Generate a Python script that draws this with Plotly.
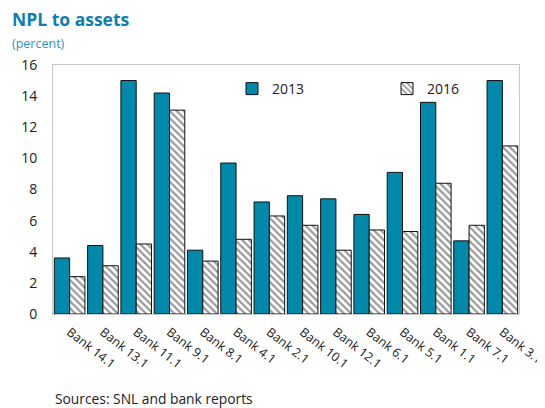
import plotly.graph_objects as go

banks = ["Bank 14.1", "Bank 13.1", "Bank 11.1", "Bank 9.1", "Bank 8.1", "Bank 4.1", "Bank 2.1",
         "Bank 10.1", "Bank 12.1", "Bank 6.1", "Bank 5.1", "Bank 1.1", "Bank 7.1", "Bank 3.1"]
npl_2013 = [3.6, 4.4, 15.0, 14.2, 4.1, 9.7, 7.2, 7.6, 7.4, 6.4, 9.1, 13.6, 4.7, 15.0]
npl_2016 = [2.4, 3.1, 4.5, 13.1, 3.4, 4.8, 6.3, 5.7, 4.1, 5.4, 5.3, 8.4, 5.7, 10.8]
y_ticks = [0, 2, 4, 6, 8, 10, 12, 14, 16]

FONT = "Open Sans"
OFF = 8  # page body margin in the browser
W, H = 545 - OFF, 408 - OFF
L, R, T, B = 53 - OFF, 26, 65 - OFF, 94
plot_w = W - L - R
plot_h = H - T - B


def px(x):
    # x in screenshot pixels -> paper coordinate
    return (x - OFF - L) / plot_w


def py(y):
    return (H - B - (y - OFF)) / plot_h


fig = go.Figure()
fig.add_trace(go.Bar(
    x=banks, y=npl_2013, name="2013",
    marker=dict(color="#0089AB", line=dict(color="#111111", width=1)),
))
fig.add_trace(go.Bar(
    x=banks, y=npl_2016, name="2016",
    marker=dict(color="white", line=dict(color="#111111", width=1),
                pattern=dict(shape="\\", fgcolor="#333333", bgcolor="white", size=5, solidity=0.45)),
))

fig.update_layout(
    width=W, height=H,
    margin=dict(l=L, r=R, t=T, b=B, autoexpand=False),
    paper_bgcolor="white", plot_bgcolor="white",
    barmode="group", bargap=0.08, bargroupgap=0.0,
    font=dict(family=FONT, size=13, color="#222222"),
    showlegend=True,
    legend=dict(orientation="h", x=px(232), y=py(89), xanchor="left", yanchor="middle",
                bgcolor="rgba(0,0,0,0)", font=dict(size=14), traceorder="normal",
                itemwidth=30, entrywidthmode="pixels", entrywidth=110),
    xaxis=dict(showgrid=False, tickangle=38, showline=True, linecolor="#c8c8c8", mirror=True,
               ticks="", tickfont=dict(size=12.5), automargin=False, ticklabelstandoff=5),
    yaxis=dict(range=[0, 16], tickvals=y_ticks, showgrid=False, showline=True, linecolor="#c8c8c8",
               mirror=True, ticks="", tickfont=dict(size=14), zeroline=False, automargin=False,
               ticklabelstandoff=12),
)

fig.add_annotation(text="<b>NPL to assets</b>", x=px(10), y=py(19), xref="paper", yref="paper",
                   xanchor="left", yanchor="middle", showarrow=False,
                   font=dict(family=FONT, size=17.5, color="#0A7EB5"))
fig.add_annotation(text="(percent)", x=px(10), y=py(43), xref="paper", yref="paper",
                   xanchor="left", yanchor="middle", showarrow=False,
                   font=dict(family=FONT, size=12.5, color="#2E8FD0"))
fig.add_annotation(text="Sources: SNL and bank reports", x=px(54), y=py(398), xref="paper", yref="paper",
                   xanchor="left", yanchor="middle", showarrow=False, borderpad=0,
                   font=dict(family=FONT, size=13.8, color="#222222"))

fig.write_html("out.html")
